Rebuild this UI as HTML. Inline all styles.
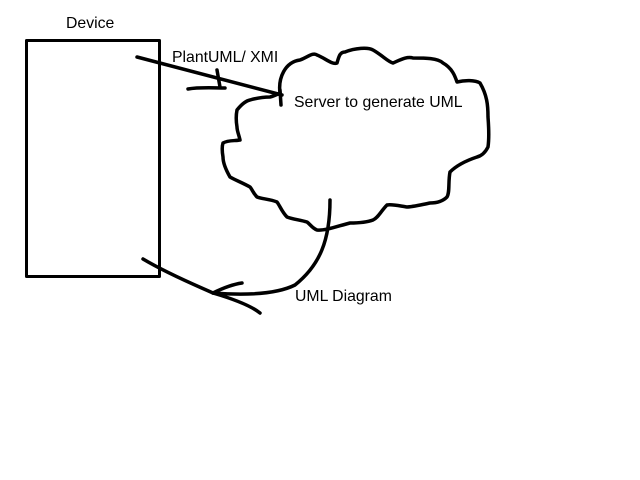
<!DOCTYPE html>
<html><head><style>body{margin:0;background:#fff}svg{display:block}text{font-family:"Liberation Sans",sans-serif;font-size:15.8px;fill:#000}</style></head>
<body><svg width="640" height="480" viewBox="0 0 640 480">
<g fill="none" stroke="#000" stroke-width="3.5" stroke-linecap="round" stroke-linejoin="round">
<rect x="26.5" y="40.5" width="133" height="236" stroke-width="3"/>
<path d="M280,93 C278,78 285,62 300,60 C308,57 313,52 317,55 C325,58 332,65 337,63 C339,56 340,52 345,52 C355,48 368,47 373,50 C382,55 388,62 393,63 C400,60 407,56 413,58 C425,58 438,58 443,63 C452,68 455,76 457,82 C465,80 475,80 480,83 C487,95 488,105 488,117 C489,130 489,140 488,147 C485,153 481,156 477,157 C468,160 457,165 450,172 C448,182 450,192 447,197 C442,202 436,203 430,203 C420,205 412,207 407,207 C400,206 392,204 387,205 C381,211 378,218 373,220 C365,223 356,223 350,223 C338,226 325,231 317,230 C312,228 310,224 307,222 C300,220 292,219 287,217 C282,212 280,206 277,202 C270,199 262,199 257,197 C253,193 252,189 250,187 C243,183 235,180 230,177 C226,170 223,163 223,157 C222,151 222,146 223,143 C228,140 235,141 240,140 C239,135 237,131 237,127 C236,121 236,115 237,110 C241,105 245,101 250,100 C257,98 264,97 270,97 C274,96 278,94 280,93 Z"/>
<path d="M137,57 L282,95"/>
<path d="M280,90 L281,105"/>
<path d="M188,89 C200,87 213,88 225,88 M217,70 L220,87"/>
<path d="M330,200 C330,240 320,265 295,285 C275,295 240,295 213,293"/>
<path d="M213,293 C225,287 235,284 242,283"/>
<path d="M143,259 C170,275 200,287 213,293 C230,298 250,305 260,313"/>
</g>
<text x="66" y="28">Device</text>
<text x="172" y="62">PlantUML/ XMI</text>
<text x="294" y="107">Server to generate UML</text>
<text x="295" y="301">UML Diagram</text>
</svg></body></html>
